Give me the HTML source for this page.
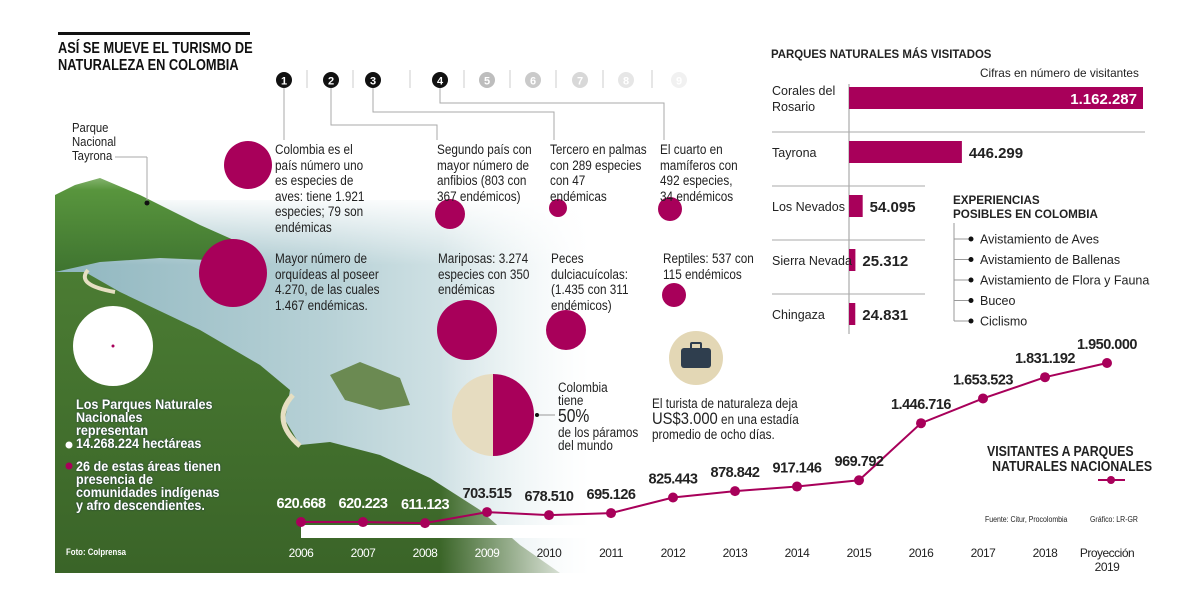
<!DOCTYPE html>
<html><head><meta charset="utf-8">
<style>
html,body{margin:0;padding:0;background:#fff;}
#root{position:relative;width:1200px;height:601px;overflow:hidden;background:#fff;font-family:"Liberation Sans",sans-serif;color:#222;}
.t{position:absolute;font-size:13.5px;line-height:15.5px;color:#222;white-space:nowrap;transform:scaleX(0.87);transform-origin:left top;}
.b{font-weight:bold;}
svg{position:absolute;left:0;top:0;}
</style></head>
<body>
<div id="root">
<svg width="1200" height="601">
<defs>
<linearGradient id="fadeTop" x1="0" y1="0" x2="0" y2="1">
<stop offset="0" stop-color="#fff" stop-opacity="1"/><stop offset="1" stop-color="#fff" stop-opacity="0"/></linearGradient>
<linearGradient id="fadeRight" x1="0" y1="0" x2="1" y2="0">
<stop offset="0" stop-color="#fff" stop-opacity="0"/><stop offset="1" stop-color="#fff" stop-opacity="1"/></linearGradient>
<linearGradient id="sea" x1="0" y1="0" x2="1" y2="0">
<stop offset="0" stop-color="#8fb6bf"/><stop offset="0.5" stop-color="#b7d1d6"/><stop offset="1" stop-color="#eef5f6"/></linearGradient>
<linearGradient id="hill" x1="0" y1="0" x2="0" y2="1">
<stop offset="0" stop-color="#5c9a3f"/><stop offset="1" stop-color="#3f7430"/></linearGradient>
<linearGradient id="green" x1="0" y1="0" x2="0" y2="1">
<stop offset="0" stop-color="#4b7c33"/><stop offset="1" stop-color="#3a6428"/></linearGradient>
</defs>
<rect x="55" y="200" width="540" height="373" fill="url(#sea)"/>
<rect x="55" y="195" width="540" height="70" fill="url(#fadeTop)"/>
<path d="M55 195 L75 185 L100 178 L140 195 L200 225 L245 245 L255 262 L160 258 L100 262 L55 272 Z" fill="url(#hill)"/>
<path d="M55 272 L85 272 L120 292 L200 330 L260 365 L290 390 L285 420 L300 445 L330 442 L380 455 L430 478 L480 510 L520 545 L560 573 L55 573 Z" fill="url(#green)"/>
<path d="M330 375 L360 362 L400 378 L410 405 L380 410 L345 400 Z" fill="#6b8a52"/>
<path d="M293 395 Q270 420 300 446" fill="none" stroke="#e6dfc2" stroke-width="5"/>
<path d="M88 270 Q75 285 115 292" fill="none" stroke="#e6dfc2" stroke-width="4"/>
<rect x="55" y="140" width="540" height="50" fill="url(#fadeTop)"/>
<rect x="440" y="140" width="150" height="440" fill="url(#fadeRight)"/>
<rect x="590" y="140" width="20" height="440" fill="#fff"/>
<rect x="55" y="573" width="560" height="28" fill="#fff"/>
</svg>

<div style="position:absolute;left:58px;top:32px;width:192px;height:3px;background:#111"></div>
<div class="t b" style="left:58px;top:40px;font-size:16px;line-height:17px;color:#111;transform:scaleX(0.8)">ASÍ SE MUEVE EL TURISMO DE<br>NATURALEZA EN COLOMBIA</div>

<svg width="1200" height="601" id="facts"></svg>

<div class="t" style="left:72px;top:121px;line-height:14px;font-size:13px">Parque<br>Nacional<br>Tayrona</div>

<div class="t" style="left:275px;top:142px">Colombia es el<br>país número uno<br>es especies de<br>aves: tiene 1.921<br>especies; 79 son<br>endémicas</div>
<div class="t" style="left:437px;top:142px">Segundo país con<br>mayor número de<br>anfibios (803 con<br>367 endémicos)</div>
<div class="t" style="left:550px;top:142px">Tercero en palmas<br>con 289 especies<br>con 47<br>endémicas</div>
<div class="t" style="left:660px;top:142px">El cuarto en<br>mamíferos con<br>492 especies,<br>34 endémicos</div>
<div class="t" style="left:275px;top:251px">Mayor número de<br>orquídeas al poseer<br>4.270, de las cuales<br>1.467 endémicas.</div>
<div class="t" style="left:438px;top:251px">Mariposas: 3.274<br>especies con 350<br>endémicas</div>
<div class="t" style="left:551px;top:251px">Peces<br>dulciacuícolas:<br>(1.435 con 311<br>endémicos)</div>
<div class="t" style="left:663px;top:251px">Reptiles: 537 con<br>115 endémicos</div>

<div class="t b" style="left:76px;top:398px;color:#fff;line-height:13px;font-size:14px;text-shadow:0 0 2px #234;transform:scaleX(0.9)">Los Parques Naturales<br>Nacionales<br>representan<br>14.268.224 hectáreas</div>
<div class="t b" style="left:76px;top:460px;color:#fff;line-height:13px;font-size:14px;text-shadow:0 0 2px #234;transform:scaleX(0.9)">26 de estas áreas tienen<br>presencia de<br>comunidades indígenas<br>y afro descendientes.</div>
<div class="t b" style="left:66px;top:545px;color:#fff;font-size:9px">Foto: Colprensa</div>

<div class="t" style="left:558px;top:381px;line-height:13px">Colombia<br>tiene<br><span style="font-size:18px;line-height:19px">50%</span><br>de los páramos<br>del mundo</div>
<div class="t" style="left:652px;top:396px;line-height:15px">El turista de naturaleza deja<br><span style="font-size:17px">US$3.000</span> en una estadía<br>promedio de ocho días.</div>

<div class="t b" style="left:771px;top:47px;font-size:12px;transform:scaleX(0.95)">PARQUES NATURALES MÁS VISITADOS</div>
<div class="t" style="left:980px;top:66px;font-size:12px;transform:scaleX(0.98)">Cifras en número de visitantes</div>
<svg width="1200" height="601" id="bars"></svg>

<div class="t b" style="left:953px;top:193px;font-size:12px;line-height:14px;transform:scaleX(0.97)">EXPERIENCIAS<br>POSIBLES EN COLOMBIA</div>
<svg width="1200" height="601" id="exp"></svg>

<div class="t b" style="left:987px;top:445px;font-size:14.5px;line-height:15px;transform:scaleX(0.85)">VISITANTES A PARQUES<br><span style="padding-left:6px">NATURALES NACIONALES</span></div>
<div class="t" style="left:985px;top:512px;font-size:8px">Fuente: Citur, Procolombia</div>
<div class="t" style="left:1090px;top:512px;font-size:8px">Gráfico: LR-GR</div>
<svg width="1200" height="601" id="line"></svg>
</div>

<script>
const years = ["2006","2007","2008","2009","2010","2011","2012","2013","2014","2015","2016","2017","2018","Proyección 2019"];
const visitors = [620668,620223,611123,703515,678510,695126,825443,878842,917146,969792,1446716,1653523,1831192,1950000];
const visitorLabels = ["620.668","620.223","611.123","703.515","678.510","695.126","825.443","878.842","917.146","969.792","1.446.716","1.653.523","1.831.192","1.950.000"];

const parks = ["Corales del Rosario","Tayrona","Los Nevados","Sierra Nevada","Chingaza"];
const parkVisitors = [1162287,446299,54095,25312,24831];
const parkLabels = ["1.162.287","446.299","54.095","25.312","24.831"];

const experiences = ["Avistamiento de Aves","Avistamiento de Ballenas","Avistamiento de Flora y Fauna","Buceo","Ciclismo"];

const NS="http://www.w3.org/2000/svg";
function mk(p,tag,a){const e=document.createElementNS(NS,tag);for(const k in a)e.setAttribute(k,a[k]);p.appendChild(e);return e;}
const MAG="#a8005a";

/* line chart */
const L=document.getElementById('line');
const lx=i=>301+i*62;
const ly=v=>522-(v-620668)*(159/1329332);
let r=mk(L,'rect',{x:301,y:525,width:300,height:13,fill:'#fff'});


let pts=visitors.map((v,i)=>lx(i)+','+ly(v)).join(' ');
let pl=mk(L,'polyline',{points:pts,fill:'none',stroke:MAG,'stroke-width':2});


visitors.forEach((v,i)=>{
  const c=mk(L,'circle',{cx:lx(i),cy:ly(v),r:5,fill:MAG});
  
  
  const onPhoto=i<3;
  const t=mk(L,'text',{x:lx(i),y:ly(v)-14,'text-anchor':'middle','font-size':14.5,'font-weight':'bold','letter-spacing':'-0.5','font-family':'Liberation Sans, sans-serif',fill:onPhoto?'#fff':'#222'});
  t.textContent=visitorLabels[i];
  
  
  const yr=years[i].split(' ');
  yr.forEach((s,k)=>{
    const y=mk(L,'text',{x:lx(i),y:557+k*14,'text-anchor':'middle','font-size':12,'letter-spacing':'-0.5','font-family':'Liberation Sans, sans-serif',fill:i<4?'#fff':'#222'});
    y.textContent=s;
    
    
  });
});
let lg=mk(L,'line',{x1:1098,y1:480,x2:1125,y2:480,stroke:MAG,'stroke-width':2});


let lgd=mk(L,'circle',{cx:1111,cy:480,r:4,fill:MAG});



/* bar chart */
const B=document.getElementById('bars');
const bx=v=>v*(294/1162287);
const rowY=i=>87+i*54;
let ax=mk(B,'line',{x1:849,y1:84,x2:849,y2:334,stroke:'#999','stroke-width':1});


parks.forEach((p,i)=>{
  if(i>0){const s=mk(B,'line',{x1:772,y1:rowY(i)-9,x2:i==1?1145:925,y2:rowY(i)-9,stroke:'#aaa','stroke-width':1});
  
  }
  const w=Math.max(bx(parkVisitors[i]),5);
  const b=mk(B,'rect',{x:849,y:rowY(i),width:w,height:22,fill:MAG});
  
  
  const inside=w>200;
  const t=mk(B,'text',{x:inside?849+w-6:849+w+7,y:rowY(i)+17,'text-anchor':inside?'end':'start','font-size':15,'font-weight':'bold','font-family':'Liberation Sans, sans-serif',fill:inside?'#fff':'#222'});
  t.textContent=parkLabels[i];
  
  
  const words=p==="Corales del Rosario"?["Corales del","Rosario"]:[p];
  words.forEach((wd,k)=>{
    const n=mk(B,'text',{x:772,y:(words.length>1?rowY(i)+8:rowY(i)+16)+k*16,'font-size':12.5,'font-family':'Liberation Sans, sans-serif',fill:'#222'});
    n.textContent=wd;
    
    
  });
});

/* experiences */
const E=document.getElementById('exp');
let ev=mk(E,'line',{x1:954,y1:223,x2:954,y2:321,stroke:'#999'});


experiences.forEach((x,i)=>{
  const y=239+i*20.5;
  const l=mk(E,'line',{x1:954,y1:y,x2:970,y2:y,stroke:'#999'});
  
  
  const d=mk(E,'circle',{cx:971,cy:y,r:2.5,fill:'#111'});
  
  
  const t=mk(E,'text',{x:980,y:y+4.5,'font-size':12.5,'font-family':'Liberation Sans, sans-serif',fill:'#222'});
  t.textContent=x;
  
  
});

/* facts layer */
const F=document.getElementById('facts');
const markers=[[284,'1','#111'],[331,'2','#111'],[373,'3','#111'],[440,'4','#111'],[487,'5','#bdbdbd'],[533,'6','#cacaca'],[580,'7','#d8d8d8'],[626,'8','#e6e6e6'],[679,'9','#f1f1f1']];
[307,353,410,464,510,556,603,652].forEach(x=>{const s=mk(F,'line',{x1:x,y1:70,x2:x,y2:88,stroke:'#ccc'});

});
const conns=["284,88 284,140","331,88 331,125 437,125 437,140","373,88 373,112 554,112 554,140","440,88 440,103 664,103 664,140","147,157 147,203"];
conns.forEach(c=>{const p=mk(F,'polyline',{points:c,fill:'none',stroke:'#aaa','stroke-width':1});

});
let tc=mk(F,'polyline',{points:'115,157 147,157',fill:'none',stroke:'#aaa'});


let td=mk(F,'circle',{cx:147,cy:203,r:2.5,fill:'#111'});


markers.forEach(m=>{
  const c=mk(F,'circle',{cx:m[0],cy:80,r:8,fill:m[2]});
  
  
  const t=mk(F,'text',{x:m[0],y:84.5,'text-anchor':'middle','font-size':11,'font-weight':'bold','font-family':'Liberation Sans, sans-serif',fill:'#fff'});
  t.textContent=m[1];
  
  
});
const bubbles=[[248,165,24,'birds'],[233,273,34,'orchids'],[450,214,15,'amphibians'],[558,208,9,'palms'],[670,209,12,'mammals'],[467,330,30,'butterflies'],[566,330,20,'fish'],[674,295,12,'reptiles']];
bubbles.forEach(b=>{const c=mk(F,'circle',{cx:b[0],cy:b[1],r:b[2],fill:MAG});

});
let wc=mk(F,'circle',{cx:113,cy:346,r:40,fill:'#fff'});


let wd=mk(F,'circle',{cx:113,cy:346,r:1.5,fill:MAG});


let b1=mk(F,'circle',{cx:69,cy:445,r:3.5,fill:'#fff'});


let b2=mk(F,'circle',{cx:69,cy:466,r:3.5,fill:MAG});


let pie1=mk(F,'path',{d:'M493,374 A41,41 0 0 0 493,456 Z',fill:'#e6dcc0'});


let pie2=mk(F,'path',{d:'M493,374 A41,41 0 0 1 493,456 Z',fill:MAG});


let pl2=mk(F,'line',{x1:537,y1:415,x2:555,y2:415,stroke:'#999'});


let pd=mk(F,'circle',{cx:537,cy:415,r:2,fill:'#111'});


let sc=mk(F,'circle',{cx:696,cy:358,r:27,fill:'#e3d7b5'});


let sb=mk(F,'rect',{x:681,y:348,width:30,height:20,rx:3,fill:'#2f3e4e'});


let sh=mk(F,'rect',{x:691,y:343,width:10,height:6,rx:1,fill:'none',stroke:'#2f3e4e','stroke-width':2});


</script>
</body></html>
